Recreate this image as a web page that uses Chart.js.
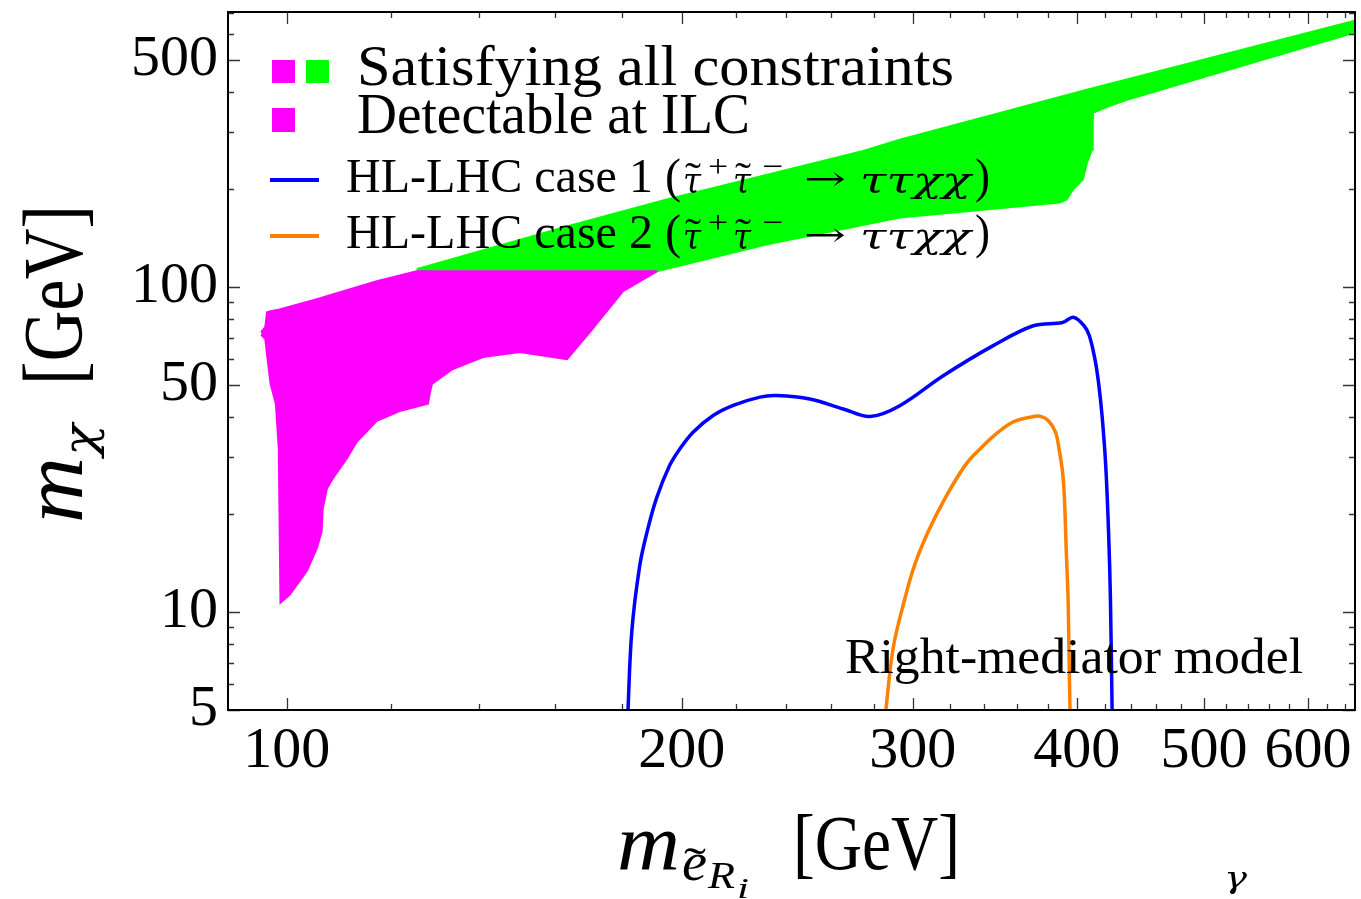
<!DOCTYPE html>
<html lang="en">
<head>
    <meta charset="UTF-8">
    <title>Right-mediator model</title>
    <script src="https://cdn.jsdelivr.net/npm/chart.js@4.4.1/dist/chart.umd.min.js"></script>
    <style>
        body {
            margin: 0;
            padding: 0;
            background-color: #fff;
        }

        #wrap {
            width: 1361px;
            height: 899px;
        }
    </style>
</head>
<body>
    <div id="wrap">
        <canvas id="chartCanvas" width="1361" height="899"></canvas>
    </div>

    <script>
        // tick values
        const xMajor = [100, 200, 300, 400, 500, 600];
        const xMinor = [120, 140, 160, 180, 220, 240, 260, 280, 320, 340, 360, 380,
            420, 440, 460, 480, 520, 540, 560, 580, 620, 640];
        const yMajor = [5, 10, 50, 100, 500];
        const yMinor = [6, 7, 8, 9, 20, 30, 40, 60, 70, 80, 90, 200, 300, 400, 600, 700];

        // "Detectable at ILC" region (magenta), upper and lower edge
        const ilcTopX = [95.6, 96.3, 96.6, 97.2, 98.1, 98.6, 98.9, 105.4, 117.1, 125.6, 191.4];
        const ilcTopY = [72.8, 75.4, 83.8, 84.4, 85.0, 85.3, 85.6, 91.9, 104.3, 111.9, 111.9];
        const ilcLowX = [95.6, 96.3, 96.6, 97.2, 98.1, 98.6, 98.9, 100.5, 103.6, 105.4, 106.3, 106.5, 107.3,
            108.4, 111.1, 113.1, 117.1, 121.9, 128.1, 128.5, 129.0, 133.8, 141.1, 150.5, 163.5, 170.2, 180.4, 191.4];
        const ilcLowY = [71.5, 69.3, 61.9, 50.4, 43.8, 31.9, 10.7, 11.3, 13.4, 15.7, 17.7, 20.8, 24.0,
            25.8, 29.7, 33.5, 38.8, 41.6, 43.8, 47.0, 50.4, 56.0, 61.0, 63.2, 60.1, 72.8, 97.2, 111.9];

        // "Satisfying all constraints" region (green)
        const allTopX = [125.6, 163.5, 194.8, 246.0, 273.4, 293.2, 407.2, 649.4, 652];
        const allTopY = [113.6, 153.8, 186.2, 235, 261, 284.4, 405, 659, 662];
        const allLowX = [125.6, 191.4, 232.3, 293.2, 388.2, 392.9, 397.2, 404.2, 407.2, 410.8, 411.3, 411.6,
            421.7, 436.7, 649.4, 652];
        const allLowY = [111.9, 111.9, 135.5, 164, 182.3, 186.2, 199.8, 214.4, 241.7, 265, 320, 344,
            359, 377.3, 605.7, 609];

        // HL-LHC reach curves
        const case1X = [181.9, 183.2, 185.8, 188.2, 191.3, 195.8, 199.3, 204.0, 211.3, 218.9, 229.4, 236.2,
            250.4, 265.5, 278.3, 293.2, 316.4, 345.4, 370.6, 390.1, 397.6, 405.1, 408.9, 412.9, 415.5, 418.1,
            420.8, 422.9, 424.3, 425.6];
        const case1Y = [4.8, 8.72, 13.96, 17.7, 22.4, 28.3, 31.8, 35.8, 40.3, 43.3, 45.9, 46.4,
            45.3, 42.2, 40.0, 43.2, 53.4, 66.1, 76.1, 77.9, 80.8, 76.1, 70.9, 60.1, 51.0, 40.3,
            28.3, 17.7, 11.0, 4.8];
        const case2X = [285.8, 289.8, 295.8, 301.0, 308.2, 317.4, 328.8, 337.5, 348.5, 357.8, 368.5, 375.0,
            380.4, 385.3, 387.7, 390.1, 391.4, 392.6, 393.9, 394.5, 395.3];
        const case2Y = [4.8, 7.76, 11.0, 14.0, 17.7, 22.4, 28.3, 31.8, 35.8, 38.5, 39.8, 40.1,
            38.9, 35.8, 31.8, 27.0, 22.4, 15.7, 11.0, 7.76, 4.8];

        const pts = (xs, ys) => xs.map((v, i) => ({ x: v, y: ys[i] }));
        const FONT = '"Liberation Serif", "Times New Roman", serif';
        const GREEK = '"DejaVu Serif", serif';

        // draw a piece of text, squeezed/stretched to a given width
        function put(ctx, s, x, y, size, w, style, family) {
            ctx.save();
            ctx.font = (style || '') + ' ' + size + 'px ' + (family || FONT);
            ctx.textAlign = 'left';
            ctx.textBaseline = 'alphabetic';
            const m = ctx.measureText(s).width;
            ctx.translate(x, y);
            if (w) ctx.scale(w / m, 1);
            ctx.fillText(s, 0, 0);
            ctx.restore();
        }

        function hlRow(ctx, num, base) {
            put(ctx, 'HL-LHC case ' + num + ' (', 346, base, 48, 335);
            put(ctx, 'τ', 683, base, 36, 18, 'italic', GREEK);
            put(ctx, '˜', 685, base - 2, 40, 16);
            put(ctx, '+', 708, base - 15, 32, 20);
            put(ctx, 'τ', 733, base, 36, 18, 'italic', GREEK);
            put(ctx, '˜', 735, base - 2, 40, 16);
            put(ctx, '−', 762, base - 15, 32, 21);
            put(ctx, '→', 804, base - 2, 34, 42, '', GREEK);
            put(ctx, 'ττχχ', 860, base, 36, 111, 'italic', GREEK);
            put(ctx, ')', 975, base, 48, 15);
        }

        const decor = {
            id: 'decor',
            afterDatasetsDraw(chart) {
                const { ctx, chartArea: a, scales: { x, y } } = chart;
                ctx.save();
                // inward ticks on all four sides
                ctx.strokeStyle = '#333';
                ctx.lineWidth = 1.3;
                ctx.beginPath();
                xMajor.concat(xMinor).forEach(v => {
                    const p = Math.round(x.getPixelForValue(v)) + 0.5;
                    const len = xMajor.includes(v) ? 12 : 6;
                    ctx.moveTo(p, a.bottom); ctx.lineTo(p, a.bottom - len);
                    ctx.moveTo(p, a.top); ctx.lineTo(p, a.top + len);
                });
                yMajor.concat(yMinor).forEach(v => {
                    const p = Math.round(y.getPixelForValue(v)) + 0.5;
                    const len = yMajor.includes(v) ? 12 : 6;
                    ctx.moveTo(a.left, p); ctx.lineTo(a.left + len, p);
                    ctx.moveTo(a.right, p); ctx.lineTo(a.right - len, p);
                });
                ctx.stroke();
                ctx.strokeStyle = '#000';
                ctx.lineWidth = 2;
                ctx.strokeRect(a.left, a.top, a.right - a.left, a.bottom - a.top);

                // legend
                ctx.fillStyle = '#ff00ff';
                ctx.fillRect(272, 60, 23, 23);
                ctx.fillRect(272, 108, 23, 24);
                ctx.fillStyle = '#00ff00';
                ctx.fillRect(306, 60, 23, 23);
                ctx.lineWidth = 4;
                ctx.strokeStyle = '#0000ff';
                ctx.beginPath(); ctx.moveTo(270, 180); ctx.lineTo(319, 180); ctx.stroke();
                ctx.strokeStyle = '#ff8000';
                ctx.beginPath(); ctx.moveTo(270, 236); ctx.lineTo(319, 236); ctx.stroke();

                ctx.fillStyle = '#000';
                put(ctx, 'Satisfying all constraints', 357, 85, 56, 597);
                put(ctx, 'Detectable at ILC', 357, 133, 56, 393);
                hlRow(ctx, '1', 192);
                hlRow(ctx, '2', 248);

                put(ctx, 'Right-mediator model', 845, 673, 50, 458);

                // x axis title
                put(ctx, 'm', 617, 869, 80, 63, 'italic');
                put(ctx, 'e', 682, 880, 54, 25, 'italic');
                put(ctx, '˜', 684, 878, 44, 22);
                put(ctx, 'R', 708, 888, 38, 27, 'italic');
                put(ctx, 'i', 737, 898, 30, 12, 'italic');
                put(ctx, '[GeV]', 793, 869, 78, 167);

                // y axis title, rotated
                ctx.save();
                ctx.translate(82, 523);
                ctx.rotate(-Math.PI / 2);
                put(ctx, 'm', 0, 0, 86, 66, 'italic');
                put(ctx, 'χ', 67, 13, 44, 32, 'italic', GREEK);
                put(ctx, '[GeV]', 138, 0, 84, 180);
                ctx.restore();

                put(ctx, 'γ', 1224, 888, 30, 23, 'italic', GREEK);
                ctx.restore();
            }
        };

        const tickFont = { family: FONT, size: 58, lineHeight: 1 };

        new Chart(document.getElementById('chartCanvas'), {
            type: 'scatter',
            data: {
                datasets: [
                    {
                        label: 'HL-LHC case 1',
                        data: pts(case1X, case1Y),
                        showLine: true,
                        borderColor: '#0000ff',
                        borderWidth: 3.5,
                        pointRadius: 0,
                        tension: 0.35,
                        fill: false
                    },
                    {
                        label: 'HL-LHC case 2',
                        data: pts(case2X, case2Y),
                        showLine: true,
                        borderColor: '#ff8000',
                        borderWidth: 3.5,
                        pointRadius: 0,
                        tension: 0.35,
                        fill: false
                    },
                    {
                        label: 'Detectable at ILC',
                        data: pts(ilcTopX, ilcTopY),
                        showLine: true,
                        borderColor: '#ff00ff',
                        backgroundColor: '#ff00ff',
                        borderWidth: 2,
                        pointRadius: 0,
                        fill: '+1'
                    },
                    {
                        label: 'ilc-low',
                        data: pts(ilcLowX, ilcLowY),
                        showLine: true,
                        borderColor: '#ff00ff',
                        borderWidth: 2,
                        pointRadius: 0,
                        fill: false
                    },
                    {
                        label: 'Satisfying all constraints',
                        data: pts(allTopX, allTopY),
                        showLine: true,
                        borderColor: '#00ff00',
                        backgroundColor: '#00ff00',
                        borderWidth: 2,
                        pointRadius: 0,
                        fill: '+1'
                    },
                    {
                        label: 'all-low',
                        data: pts(allLowX, allLowY),
                        showLine: true,
                        borderColor: '#00ff00',
                        borderWidth: 2,
                        pointRadius: 0,
                        fill: false
                    }
                ]
            },
            options: {
                responsive: false,
                animation: false,
                layout: { padding: { left: 0, right: 6, top: 12, bottom: 0 } },
                plugins: {
                    legend: { display: false },
                    tooltip: { enabled: false }
                },
                scales: {
                    x: {
                        type: 'logarithmic',
                        bounds: 'data',
                        min: 90.2,
                        max: 651.7,
                        grid: { display: false, drawTicks: false },
                        border: { display: false },
                        ticks: {
                            autoSkip: false,
                            maxRotation: 0,
                            padding: 13,
                            color: '#000',
                            font: tickFont,
                            callback: (v) => xMajor.includes(v) ? String(v) : ''
                        },
                        afterBuildTicks: (s) => {
                            s.ticks = xMajor.concat(xMinor).sort((a, b) => a - b).map(v => ({ value: v }));
                        },
                        afterFit: (s) => {
                            s.height = 189;
                            s.paddingLeft = 0;
                            s.paddingRight = 0;
                        }
                    },
                    y: {
                        type: 'logarithmic',
                        bounds: 'data',
                        min: 5,
                        max: 703,
                        grid: { display: false, drawTicks: false },
                        border: { display: false },
                        ticks: {
                            autoSkip: false,
                            padding: 10,
                            color: '#000',
                            font: tickFont,
                            callback: (v) => yMajor.includes(v) ? String(v) : ''
                        },
                        afterBuildTicks: (s) => {
                            s.ticks = yMajor.concat(yMinor).sort((a, b) => a - b).map(v => ({ value: v }));
                        },
                        afterFit: (s) => {
                            s.width = 228;
                            s.paddingTop = 0;
                            s.paddingBottom = 0;
                        }
                    }
                }
            },
            plugins: [decor]
        });
    </script>
</body>
</html>
